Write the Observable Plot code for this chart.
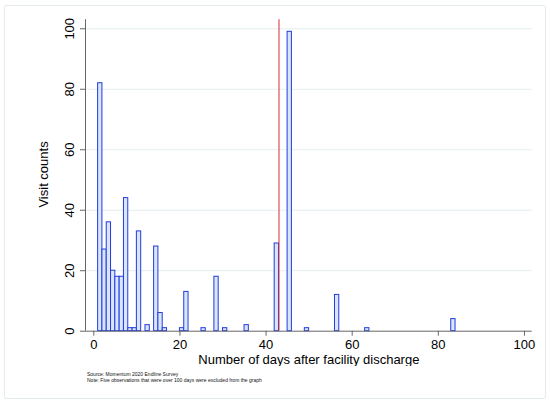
<!DOCTYPE html>
<html>
<head>
<meta charset="utf-8">
<script src="https://cdn.jsdelivr.net/npm/d3@7"></script>
<script src="https://cdn.jsdelivr.net/npm/@observablehq/plot@0.6"></script>
<style>
  html, body { margin: 0; padding: 0; background: #fff; }
  #wrap { position: relative; width: 550px; height: 405px; font-family: "Liberation Sans", Arial, Helvetica, sans-serif; }
  #frame { position: absolute; left: 4px; top: 5px; width: 540px; height: 392px; border: 1px solid #e4ebee; border-radius: 2px; }
  #chart { position: absolute; left: 0; top: 0; }
  #caption { position: absolute; left: 87px; top: 372px; font-size: 5px; line-height: 5.5px; color: #111; }
</style>
</head>
<body>
<div id="wrap">
  <div id="frame"></div>
  <div id="chart"></div>
  <div id="caption">
    <div>Source: Momentum 2020 Endline Survey</div>
    <div>Note: Five observations that were over 100 days were excluded from the graph</div>
  </div>
</div>
<script>
// Data (bin start day, visit count)
const days   = [1, 2, 3, 4, 5, 6, 7, 8, 9, 10, 12, 14, 15, 16, 20, 21, 25, 28, 30, 35, 42, 45, 49, 56, 63, 83];
const counts = [82, 27, 36, 20, 18, 18, 44, 1, 1, 33, 2, 28, 6, 1, 1, 13, 1, 18, 1, 2, 29, 99, 1, 12, 1, 4];
const xTicks = [0, 20, 40, 60, 80, 100];
const yTicks = [0, 20, 40, 60, 80, 100];
const refLine = [43];

const bars = days.map((d, i) => ({day: d, count: counts[i]}));
const xDomain = [-1.93, 101.8];
const yDomain = [0, 103];
const axisColor = "#666";

const chart = Plot.plot({
  width: 550,
  height: 366,
  marginLeft: 85,
  marginRight: 18.3,
  marginTop: 19.2,
  marginBottom: 35.3,
  style: {fontFamily: "Liberation Sans, Arial, Helvetica, sans-serif", fontSize: "13px", color: "#000", background: "transparent"},
  x: {domain: xDomain},
  y: {domain: yDomain},
  marks: [
    Plot.ruleY(yTicks.filter(d => d > 0), {stroke: "#e4eef1", strokeWidth: 1}),
    Plot.rect(bars, {x1: "day", x2: d => d.day + 1, y1: 0, y2: "count", fill: "#dbe5fa", stroke: "#1f3de0", strokeWidth: 1}),
    Plot.ruleX(refLine, {y1: 0, y2: 103, stroke: "#d3303a", strokeWidth: 1}),
    Plot.ruleY([0], {stroke: axisColor, strokeWidth: 1}),
    Plot.ruleX([xDomain[0]], {stroke: axisColor, strokeWidth: 1}),
    Plot.axisX({ticks: xTicks, tickSize: 5, tickPadding: 4, stroke: axisColor, label: null, fill: "#000"}),
    Plot.axisY({ticks: yTicks, tickSize: 5, tickFormat: () => "", stroke: axisColor, label: null}),
    Plot.text(yTicks, {y: d => d, text: d => String(d), frameAnchor: "left", dx: -16, rotate: -90, textAnchor: "middle", lineAnchor: "middle", fontSize: 13, fill: "#000"}),
    Plot.text(["Visit counts"], {text: d => d, frameAnchor: "left", dx: -42, dy: -1, rotate: -90, textAnchor: "middle", lineAnchor: "middle", fontSize: 13, fill: "#000"}),
    Plot.text(["Number of days after facility discharge"], {text: d => d, frameAnchor: "bottom", dy: 29, textAnchor: "middle", lineAnchor: "middle", fontSize: 13, fill: "#000"})
  ]
});
document.getElementById("chart").appendChild(chart);
</script>
</body>
</html>
